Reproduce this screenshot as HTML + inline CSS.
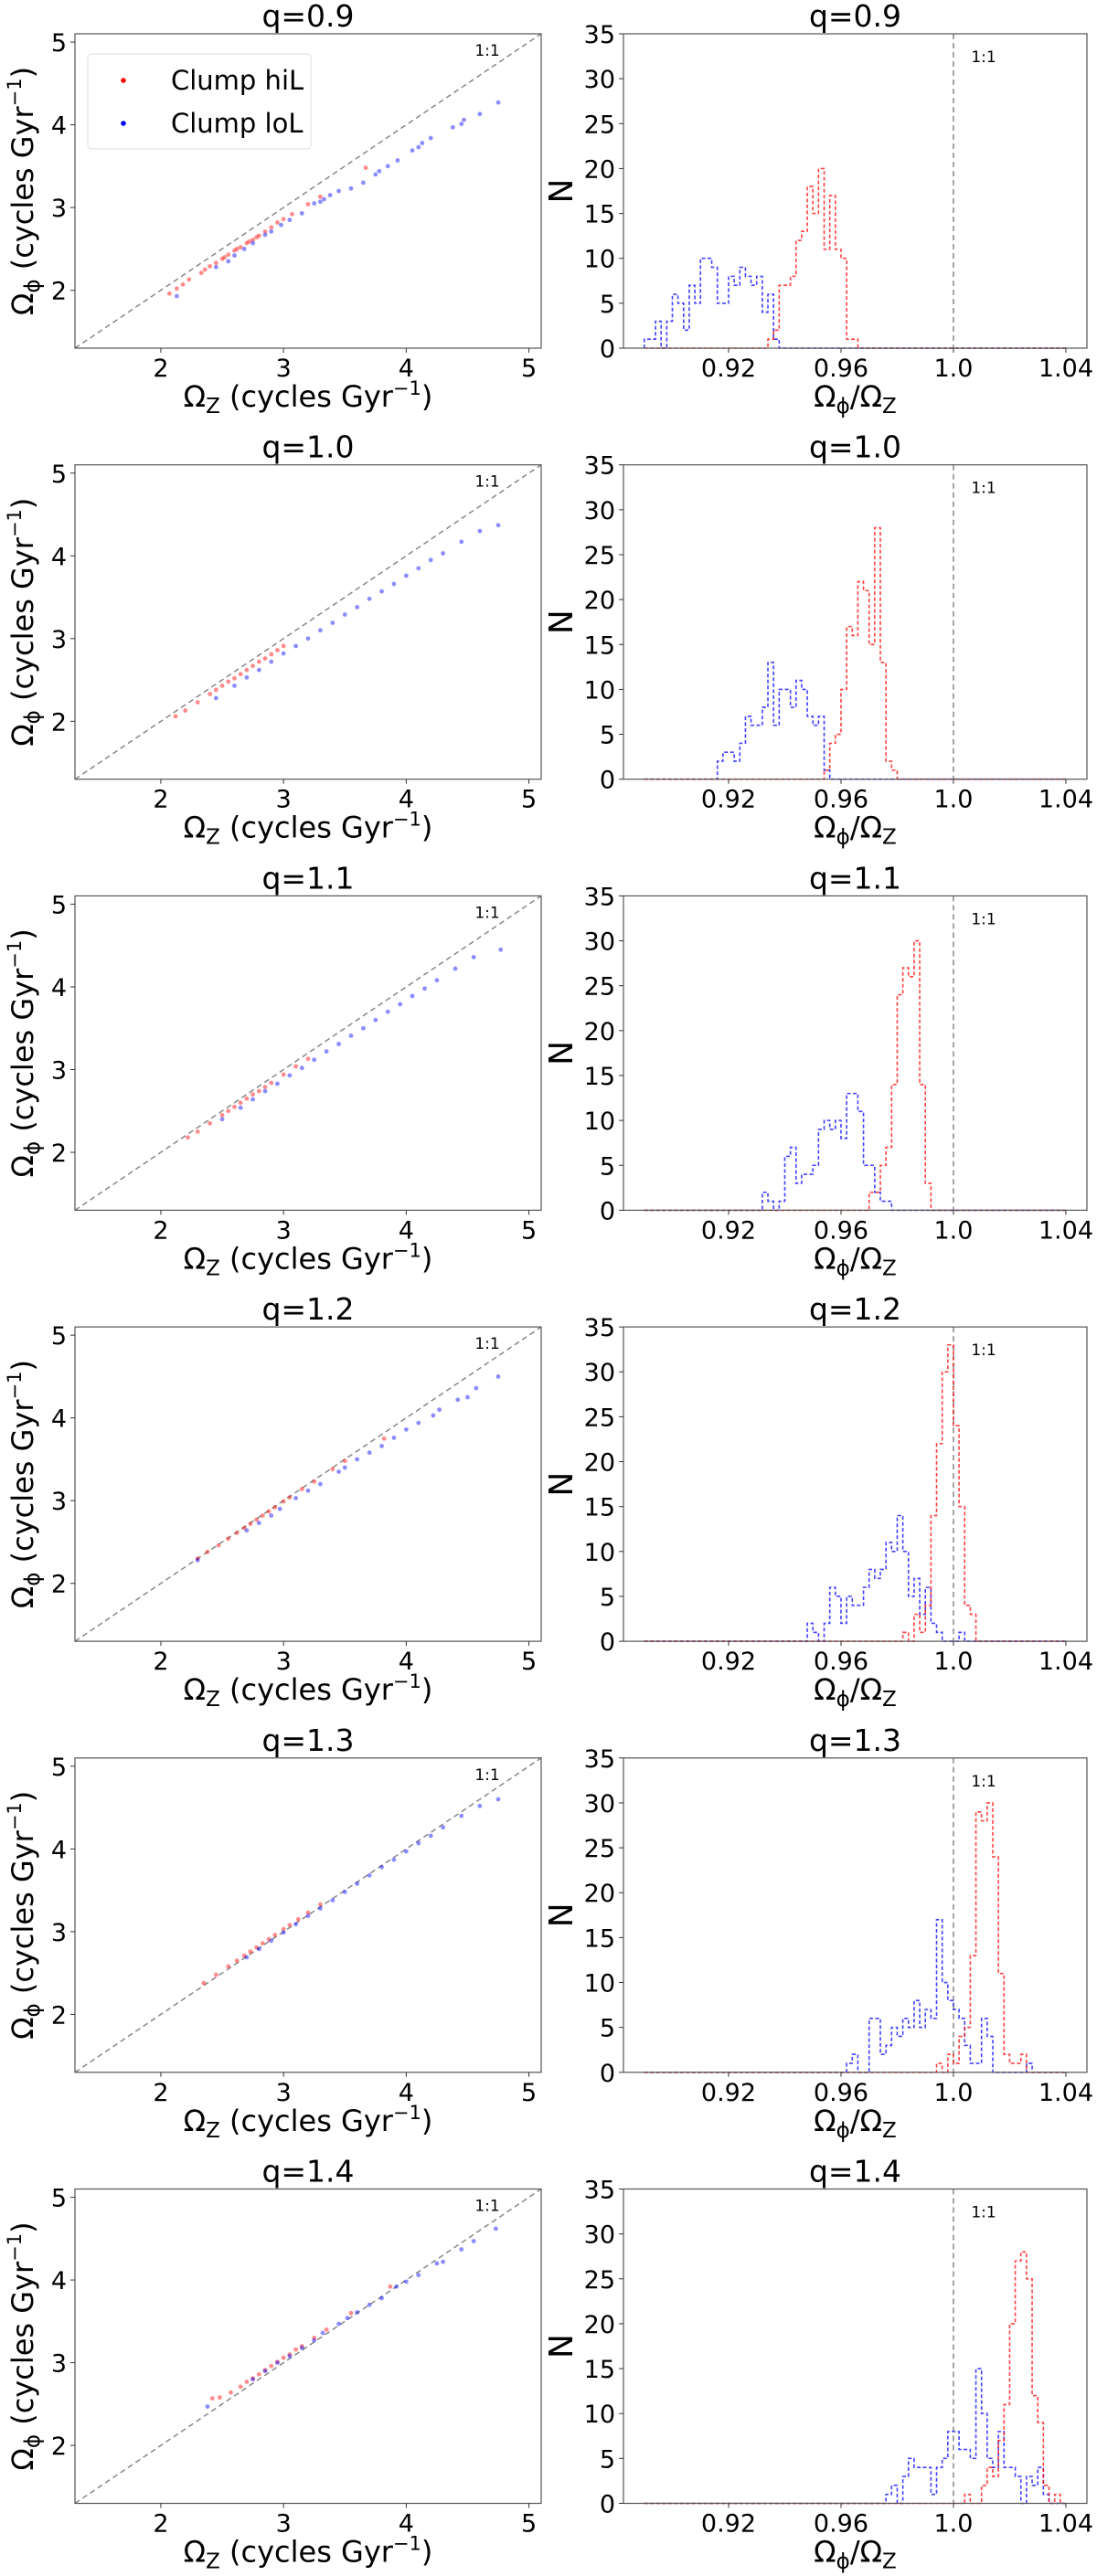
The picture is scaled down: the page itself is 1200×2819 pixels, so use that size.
<!DOCTYPE html>
<html><head><meta charset="utf-8"><style>
html,body{margin:0;padding:0;background:#fff;}
svg{display:block;font-family:"DejaVu Sans","Liberation Sans",sans-serif;}
</style></head><body>
<svg id="fig" width="1200" height="2819" viewBox="0 0 1200 2819" xmlns="http://www.w3.org/2000/svg"></svg>
<script>
// ---- data ----
const qLabels = ["q=0.9","q=1.0","q=1.1","q=1.2","q=1.3","q=1.4"];
const scatterTicks = [2,3,4,5];
const histXTicks = [0.92,0.96,1.0,1.04];
const histXTickLabels = ["0.92","0.96","1.0","1.04"];
const histYTicks = [0,5,10,15,20,25,30,35];
const binWidth = 0.002;
const histRangeStart = 0.89;
const histRangeEnd = 1.04;

const hiLStart = [0.934,0.954,0.970,0.982,0.994,1.004];
const loLStart = [0.890,0.916,0.932,0.948,0.962,0.976];
const hiLCounts0 = [1,2,7,7,8,12,13,18,15,20,11,17,11,10,1,1];
const hiLCounts1 = [1,4,5,10,17,16,22,21,15,28,13,2,1];
const hiLCounts2 = [2,2,5,7,14,24,27,26,30,14,3];
const hiLCounts3 = [1,0,3,1,4,14,22,30,33,24,15,4,3];
const hiLCounts4 = [1,0,2,1,4,5,13,29,28,30,24,11,2,1,1,2];
const hiLCounts5 = [1,0,0,2,4,3,7,11,20,27,28,25,12,9,2,0,1];
const loLCounts0 = [1,1,3,0,3,6,5,2,7,5,10,10,9,5,5,8,7,9,8,7,8,4,6,1];
const loLCounts1 = [2,3,3,2,4,7,6,6,8,13,6,10,10,8,11,10,7,6,7,1];
const loLCounts2 = [2,1,0,1,6,7,3,4,4,5,9,10,9,10,8,13,13,11,5,5,2,1,1];
const loLCounts3 = [2,1,0,2,6,5,2,5,4,4,6,8,7,8,11,10,14,10,5,7,3,6,2,1,0,0,0,1];
const loLCounts4 = [1,2,0,0,6,6,2,3,5,4,6,5,8,5,7,6,17,10,8,7,6,3,1,1,6,4,0,0,0,0,0,0,1];
const loLCounts5 = [1,2,0,3,5,4,4,4,1,4,5,8,8,6,6,5,15,10,5,4,8,4,4,3,0,3,2,4,1];
const hiLCounts = [hiLCounts0,hiLCounts1,hiLCounts2,hiLCounts3,hiLCounts4,hiLCounts5];
const loLCounts = [loLCounts0,loLCounts1,loLCounts2,loLCounts3,loLCounts4,loLCounts5];

const hiLPts0 = [[2.07,1.96],[2.13,2.02],[2.18,2.07],[2.23,2.13],[2.33,2.21],[2.36,2.25],[2.4,2.29],[2.45,2.33],[2.5,2.38],[2.52,2.40],[2.55,2.43],[2.6,2.48],[2.62,2.50],[2.65,2.52],[2.7,2.57],[2.72,2.59],[2.75,2.61],[2.78,2.64],[2.8,2.66],[2.85,2.71],[2.9,2.76],[2.95,2.82],[3.0,2.86],[3.07,2.92],[3.2,3.04],[3.3,3.13],[3.67,3.48]];
const loLPts0 = [[2.13,1.93],[2.45,2.28],[2.55,2.35],[2.6,2.42],[2.68,2.5],[2.75,2.57],[2.85,2.67],[2.9,2.71],[2.98,2.79],[3.05,2.85],[3.15,2.93],[3.25,3.05],[3.3,3.07],[3.33,3.1],[3.38,3.15],[3.45,3.2],[3.55,3.23],[3.65,3.3],[3.75,3.4],[3.78,3.44],[3.85,3.5],[3.93,3.57],[4.05,3.69],[4.1,3.73],[4.13,3.78],[4.2,3.84],[4.38,3.97],[4.45,4.01],[4.47,4.06],[4.6,4.13],[4.75,4.27]];
const hiLPts1 = [[2.12,2.06],[2.2,2.13],[2.3,2.23],[2.4,2.33],[2.45,2.38],[2.5,2.43],[2.55,2.48],[2.6,2.52],[2.65,2.57],[2.7,2.62],[2.75,2.67],[2.8,2.72],[2.85,2.76],[2.9,2.81],[2.95,2.86],[3.0,2.91]];
const loLPts1 = [[2.45,2.28],[2.6,2.43],[2.7,2.53],[2.8,2.62],[2.9,2.72],[3.0,2.82],[3.1,2.91],[3.2,3.0],[3.3,3.1],[3.4,3.19],[3.5,3.29],[3.6,3.38],[3.7,3.48],[3.8,3.57],[3.9,3.66],[4.0,3.76],[4.1,3.85],[4.2,3.95],[4.3,4.03],[4.45,4.17],[4.6,4.3],[4.75,4.37]];
const hiLPts2 = [[2.22,2.18],[2.3,2.25],[2.4,2.35],[2.5,2.45],[2.55,2.5],[2.6,2.55],[2.65,2.6],[2.7,2.65],[2.75,2.7],[2.8,2.74],[2.85,2.79],[2.9,2.84],[3.0,2.94],[3.1,3.04],[3.2,3.13]];
const loLPts2 = [[2.5,2.4],[2.65,2.54],[2.75,2.64],[2.85,2.74],[2.95,2.83],[3.05,2.93],[3.15,3.02],[3.25,3.12],[3.35,3.22],[3.45,3.31],[3.55,3.41],[3.65,3.5],[3.75,3.6],[3.85,3.7],[3.95,3.79],[4.05,3.89],[4.15,3.98],[4.25,4.08],[4.4,4.22],[4.55,4.36],[4.77,4.45]];
const hiLPts3 = [[2.3,2.3],[2.38,2.38],[2.47,2.46],[2.55,2.54],[2.62,2.61],[2.68,2.67],[2.73,2.72],[2.78,2.77],[2.83,2.82],[2.88,2.87],[2.93,2.92],[3.0,2.99],[3.05,3.04],[3.15,3.14],[3.25,3.23],[3.4,3.38],[3.5,3.48],[3.82,3.75]];
const loLPts3 = [[2.3,2.28],[2.7,2.64],[2.8,2.73],[2.9,2.82],[2.97,2.9],[3.1,3.03],[3.2,3.12],[3.3,3.2],[3.45,3.35],[3.5,3.4],[3.6,3.5],[3.7,3.58],[3.8,3.66],[3.9,3.76],[4.0,3.86],[4.1,3.94],[4.22,4.03],[4.27,4.1],[4.42,4.22],[4.5,4.25],[4.57,4.36],[4.75,4.5]];
const hiLPts4 = [[2.35,2.38],[2.45,2.48],[2.55,2.58],[2.62,2.65],[2.68,2.71],[2.73,2.76],[2.78,2.81],[2.83,2.86],[2.88,2.91],[2.93,2.96],[3.0,3.03],[3.05,3.08],[3.12,3.15],[3.2,3.23],[3.3,3.33]];
const loLPts4 = [[2.7,2.69],[2.8,2.79],[2.9,2.89],[3.0,2.99],[3.1,3.09],[3.2,3.19],[3.3,3.28],[3.4,3.38],[3.5,3.48],[3.6,3.58],[3.7,3.68],[3.8,3.78],[3.9,3.87],[4.0,3.97],[4.1,4.07],[4.2,4.16],[4.3,4.26],[4.45,4.4],[4.6,4.52],[4.75,4.6]];
const hiLPts5 = [[2.42,2.57],[2.48,2.58],[2.57,2.64],[2.65,2.71],[2.7,2.77],[2.75,2.81],[2.8,2.86],[2.85,2.91],[2.9,2.96],[2.95,3.01],[3.0,3.06],[3.05,3.1],[3.1,3.16],[3.15,3.2],[3.25,3.3],[3.35,3.4],[3.55,3.6],[3.87,3.92]];
const loLPts5 = [[2.38,2.47],[2.75,2.8],[2.85,2.9],[2.95,3.0],[3.05,3.08],[3.15,3.18],[3.25,3.27],[3.32,3.36],[3.45,3.47],[3.52,3.54],[3.6,3.61],[3.7,3.7],[3.8,3.78],[3.92,3.92],[4.0,3.98],[4.1,4.06],[4.25,4.2],[4.3,4.22],[4.45,4.37],[4.55,4.47],[4.73,4.62]];
const hiLPts = [hiLPts0,hiLPts1,hiLPts2,hiLPts3,hiLPts4,hiLPts5];
const loLPts = [loLPts0,loLPts1,loLPts2,loLPts3,loLPts4,loLPts5];

// ---- layout ----
const NS = "http://www.w3.org/2000/svg";
const fig = document.getElementById("fig");
const rowPitch = 471.7, axTop0 = 37, axH = 344;
const L = {x0:82, x1:592, lo:1.3, hi:5.1};
const R = {x0:682, x1:1189, lo:0.8826, hi:1.0475, ymax:35};
const TICK_FS = 27, TITLE_FS = 33, LABEL_FS = 32;

function mk(tag, attrs, parent){
  const e = document.createElementNS(NS, tag);
  for (const k in attrs) e.setAttribute(k, attrs[k]);
  (parent||fig).appendChild(e);
  return e;
}
function txt(s, attrs, parent){ const t = mk("text", attrs, parent); t.textContent = s; return t; }

for (let r = 0; r < 6; r++) {
  const top = axTop0 + r*rowPitch, bot = top + axH;
  const sx = v => L.x0 + (v - L.lo)/(L.hi - L.lo)*(L.x1 - L.x0);
  const sy = v => bot - (v - L.lo)/(L.hi - L.lo)*axH;
  const hx = v => R.x0 + (v - R.lo)/(R.hi - R.lo)*(R.x1 - R.x0);
  const hy = v => bot - v/R.ymax*axH;

  // ---------- scatter panel ----------
  const gs = mk("g", {});
  
  
  const t1 = txt(qLabels[r], {x:(L.x0+L.x1)/2, y:top-8, "font-size":TITLE_FS, "text-anchor":"middle"}, gs);
  
  
  const oneLine = mk("line", {x1:sx(L.lo), y1:sy(L.lo), x2:sx(L.hi), y2:sy(L.hi), stroke:"#888", "stroke-width":1.5, "stroke-dasharray":"6,4"}, gs);
  
  
  const ol = txt("1:1", {x:533, y:top+24, "font-size":17, "text-anchor":"middle"}, gs);
  
  
  [[hiLPts[r],"#ff0000"],[loLPts[r],"#0000ff"]].forEach(([pts,col],si)=>{
    pts.forEach(p=>{
      const c = mk("circle", {cx:sx(p[0]), cy:sy(p[1]), r:2.4, fill:col, "fill-opacity":0.45}, gs);
      
      
    });
  });
  mk("rect", {x:L.x0, y:top, width:L.x1-L.x0, height:axH, fill:"none", stroke:"#555", "stroke-width":1.2}, gs);
  scatterTicks.forEach(v=>{
    mk("line", {x1:sx(v), y1:bot, x2:sx(v), y2:bot+5, stroke:"#333"}, gs);
    const xt = txt(String(v), {x:sx(v), y:bot+31, "font-size":TICK_FS, "text-anchor":"middle"}, gs);
    
    
    mk("line", {x1:L.x0-5, y1:sy(v), x2:L.x0, y2:sy(v), stroke:"#333"}, gs);
    const yt = txt(String(v), {x:L.x0-9, y:sy(v)+10, "font-size":TICK_FS, "text-anchor":"end"}, gs);
    
    
  });
  const xl = mk("text", {x:(L.x0+L.x1)/2, y:bot+64, "font-size":LABEL_FS, "text-anchor":"middle"}, gs);
  
  
  xl.innerHTML = 'Ω<tspan font-size="23" dy="7">Z</tspan><tspan dy="-7"> (cycles Gyr</tspan><tspan font-size="21" dy="-13">−1</tspan><tspan dy="13">)</tspan>';
  const yl = mk("text", {x:0, y:0, "font-size":LABEL_FS, "text-anchor":"middle", transform:`translate(36,${(top+bot)/2}) rotate(-90)`}, gs);
  
  
  yl.innerHTML = 'Ω<tspan font-size="23" dy="7">ϕ</tspan><tspan dy="-7"> (cycles Gyr</tspan><tspan font-size="21" dy="-13">−1</tspan><tspan dy="13">)</tspan>';

  if (r === 0) {
    const lg = mk("g", {}, gs);
    
    
    mk("rect", {x:96, y:59, width:244, height:104, rx:4, fill:"#fff", stroke:"#ddd"}, lg);
    const e1 = mk("g", {}, lg);
    
    
    mk("circle", {cx:135, cy:88, r:2.8, fill:"#ff0000"}, e1);
    txt("Clump hiL", {x:187, y:98, "font-size":29}, e1);
    const e2 = mk("g", {}, lg);
    
    
    mk("circle", {cx:135, cy:135, r:2.8, fill:"#0000ff"}, e2);
    txt("Clump loL", {x:187, y:145, "font-size":29}, e2);
  }

  // ---------- histogram panel ----------
  const gh = mk("g", {});
  
  
  const t2 = txt(qLabels[r], {x:(R.x0+R.x1)/2, y:top-8, "font-size":TITLE_FS, "text-anchor":"middle"}, gh);
  
  
  const vl = mk("line", {x1:hx(1.0), y1:top, x2:hx(1.0), y2:bot, stroke:"#888", "stroke-width":1.5, "stroke-dasharray":"6,4"}, gh);
  
  
  const vt = txt("1:1", {x:1076, y:top+31, "font-size":17, "text-anchor":"middle"}, gh);
  
  
  const nb = Math.round((histRangeEnd - histRangeStart)/binWidth);
  [[loLStart[r],loLCounts[r],"#0000ff",'lol-histogram'],[hiLStart[r],hiLCounts[r],"#ff0000",'hil-histogram']].forEach(([st,cnt,col,nm])=>{
    const full = new Array(nb).fill(0);
    const off = Math.round((st - histRangeStart)/binWidth);
    cnt.forEach((c,i)=>{ if (off+i>=0 && off+i<nb) full[off+i] = c; });
    let d = `M${hx(histRangeStart)},${hy(0)}`;
    full.forEach((c,i)=>{
      const a = histRangeStart + i*binWidth, b = a + binWidth;
      d += ` L${hx(a)},${hy(c)} L${hx(b)},${hy(c)}`;
    });
    d += ` L${hx(histRangeEnd)},${hy(0)}`;
    const p = mk("path", {d:d, fill:"none", stroke:col, "stroke-opacity":0.75, "stroke-width":1.6, "stroke-dasharray":"4,2.5"}, gh);
    
    
  });
  mk("rect", {x:R.x0, y:top, width:R.x1-R.x0, height:axH, fill:"none", stroke:"#555", "stroke-width":1.2}, gh);
  histXTicks.forEach((v,i)=>{
    mk("line", {x1:hx(v), y1:bot, x2:hx(v), y2:bot+5, stroke:"#333"}, gh);
    const xt = txt(histXTickLabels[i], {x:hx(v), y:bot+31, "font-size":TICK_FS, "text-anchor":"middle"}, gh);
    
    
  });
  histYTicks.forEach(v=>{
    mk("line", {x1:R.x0-5, y1:hy(v), x2:R.x0, y2:hy(v), stroke:"#333"}, gh);
    const yt = txt(String(v), {x:R.x0-9, y:hy(v)+10, "font-size":TICK_FS, "text-anchor":"end"}, gh);
    
    
  });
  const hxl = mk("text", {x:(R.x0+R.x1)/2, y:bot+64, "font-size":LABEL_FS, "text-anchor":"middle"}, gh);
  
  
  hxl.innerHTML = 'Ω<tspan font-size="23" dy="7">ϕ</tspan><tspan dy="-7">/Ω</tspan><tspan font-size="23" dy="7">Z</tspan>';
  const hyl = txt("N", {x:0, y:0, "font-size":36, "text-anchor":"middle", transform:`translate(626,${(top+bot)/2}) rotate(-90)`}, gh);
  
  
}
</script>
</body></html>
